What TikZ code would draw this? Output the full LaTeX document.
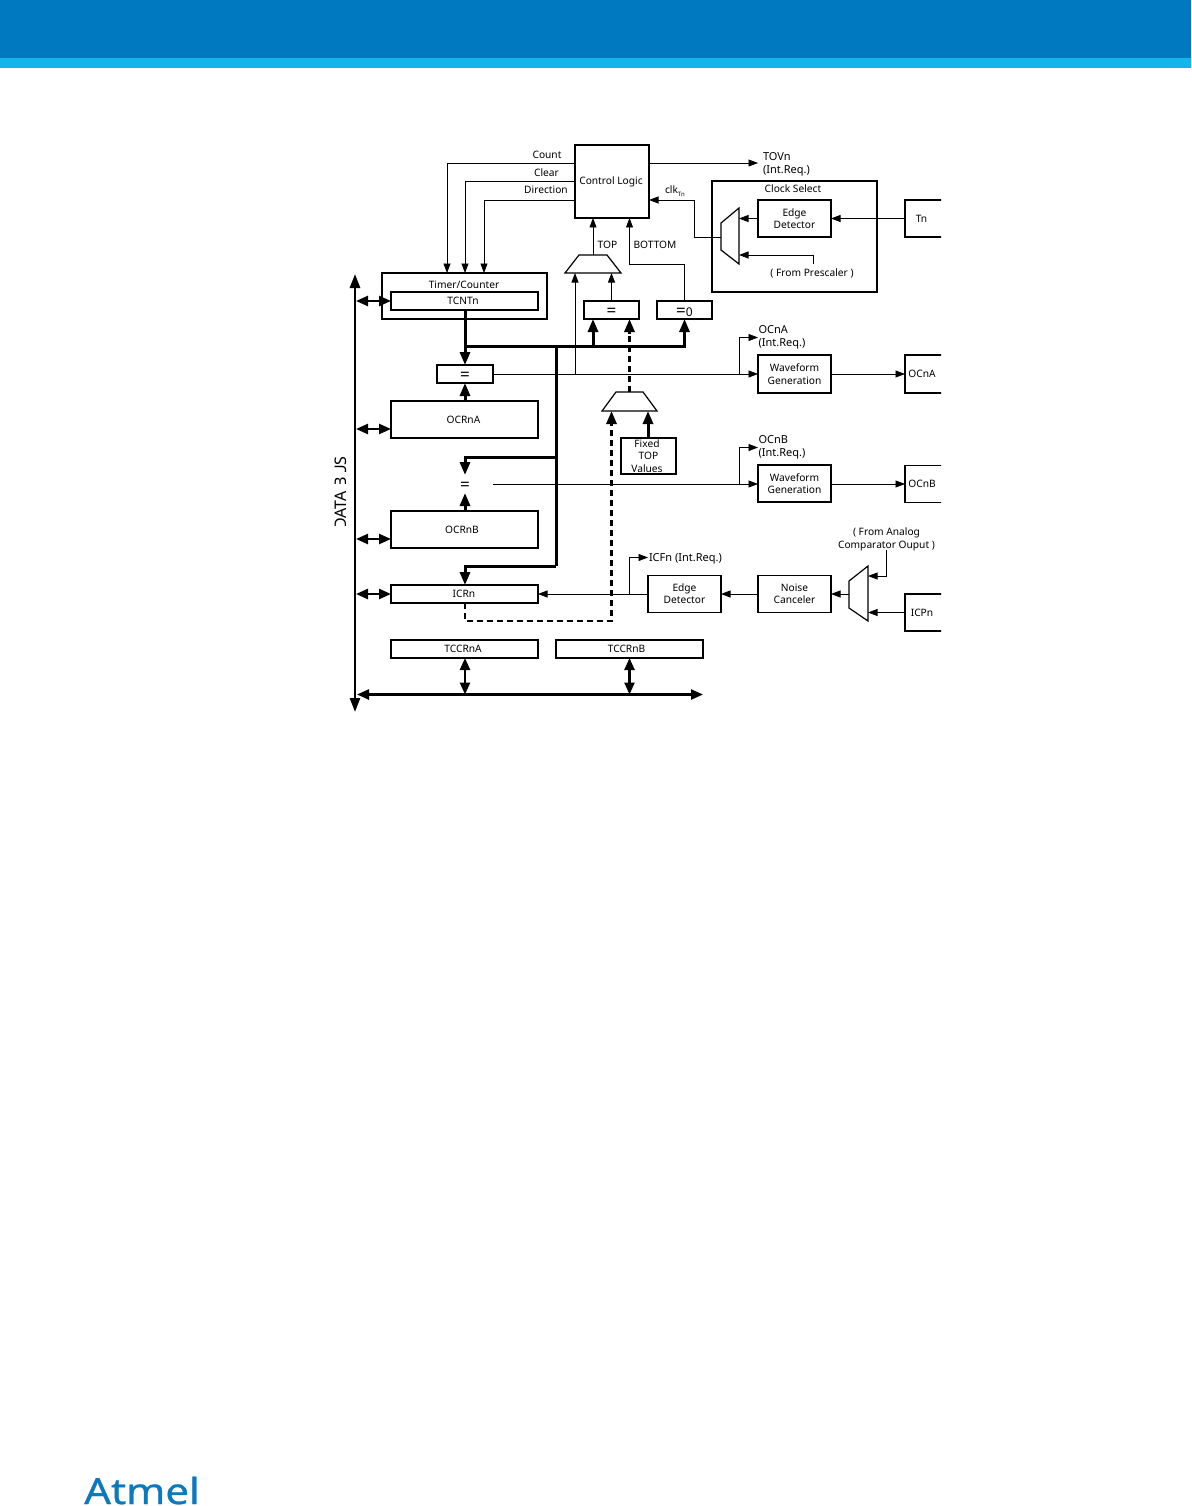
\documentclass[tikz,border=0pt]{standalone}
\usepackage{fontspec}
\setmainfont{Noto Sans}
\newfontfamily\logofont[FakeBold=0.7]{Noto Sans}
\usetikzlibrary{arrows.meta}
\definecolor{HeadBlue}{HTML}{0079C1}
\definecolor{HeadCyan}{HTML}{14B5EB}
\definecolor{LogoBlue}{HTML}{0C78BE}
\tikzset{
  blk/.style={draw=black,line width=1.2pt,inner sep=0pt,outer sep=0pt,align=center,font=\fontsize{10.2}{12.3}\selectfont},
  eqbox/.style={blk,font=\fontsize{17}{17}\selectfont,text height=12pt,text depth=0pt},
  lbl/.style={inner sep=0pt,outer sep=0pt,align=left,font=\fontsize{10.2}{13}\selectfont},
  irq/.style={lbl,font=\fontsize{11}{13}\selectfont},
  sig/.style={line width=0.75pt,-{Triangle[length=9.5pt,width=7pt]}},
  bus/.style={line width=3pt,-{Triangle[length=13pt,width=10pt]}},
  busboth/.style={line width=2.4pt,{Triangle[length=12pt,width=10pt]}-{Triangle[length=12pt,width=10pt]}},
  busline/.style={line width=3pt},
  busdash/.style={line width=2.6pt,dash pattern=on 6pt off 4pt},
  muxshape/.style={draw=black,line width=1.2pt}
}
\begin{document}
\begin{tikzpicture}[x=1pt,y=-1pt]
  \useasboundingbox (0,0) rectangle (1191,1506);
  % page header
  \fill[HeadBlue] (0,0) rectangle (1191,58);
  \fill[HeadCyan] (0,58) rectangle (1191,68);
  \node[text=LogoBlue,inner sep=0pt,anchor=base west,xscale=1.165,transform shape,font=\fontsize{36}{36}\logofont] (logo) at (84,1504) {Atmel};
  % right hand boxes are cut at the edge of the figure
  \begin{scope}
    \clip (300,120) rectangle (941,730);
    \node[blk,minimum width=38pt,minimum height=37pt] (tn) at (924,218.5) {Tn\hspace*{5pt}};
    \node[blk,minimum width=38pt,minimum height=38pt] (ocna) at (924,374) {OCnA\hspace*{4pt}};
    \node[blk,minimum width=38pt,minimum height=37pt] (ocnb) at (924,484) {OCnB\hspace*{4pt}};
    \node[blk,minimum width=38pt,minimum height=37pt] (icpn) at (924,612.5) {ICPn\hspace*{4pt}};
  \end{scope}
  % blocks
  \node[blk,minimum width=74pt,minimum height=73pt] (ctrl) at (612,181.5) {Control Logic\hspace*{2pt}};
  \node[blk,minimum width=165pt,minimum height=46pt] (timer) at (464.5,296) {};
  \node[lbl] (timerlbl) at (464,284.5) {Timer/Counter};
  \node[blk,minimum width=147pt,minimum height=18pt] (tcnt) at (464.5,301) {TCNTn\hspace*{3pt}};
  \node[eqbox,minimum width=56pt,minimum height=18pt] (eqa) at (465,374) {=};
  \node[blk,minimum width=147pt,minimum height=37pt] (ocra) at (464.5,419.5) {OCRnA\hspace*{2pt}};
  \node[eqbox,draw=none,minimum width=56pt,minimum height=18pt] (eqb) at (465,484) {=};
  \node[blk,minimum width=147pt,minimum height=37pt] (ocrb) at (464.5,529.5) {OCRnB\hspace*{5pt}};
  \node[blk,minimum width=147pt,minimum height=18pt] (icr) at (464.5,594) {ICRn\hspace*{1pt}};
  \node[blk,minimum width=147pt,minimum height=18pt] (tccra) at (464.5,649) {TCCRnA\hspace*{3pt}};
  \node[blk,minimum width=147pt,minimum height=18pt] (tccrb) at (629.5,649) {TCCRnB\hspace*{6pt}};
  \node[eqbox,minimum width=55pt,minimum height=18pt] (eqtop) at (611.5,310) {=};
  \node[eqbox,minimum width=55pt,minimum height=18pt] (eqzero) at (684.5,310) {=\fontsize{12}{12}\selectfont 0};
  \node[blk,minimum width=55pt,minimum height=36pt] (fixed) at (648.5,456) {Fixed\hspace*{3pt}\\TOP\hspace*{3pt}\\Values\hspace*{3pt}};
  \node[blk,minimum width=165pt,minimum height=111pt] (clksel) at (794.5,236.5) {};
  \node[lbl] (clksellbl) at (793,189) {Clock Select};
  \node[blk,minimum width=73pt,minimum height=37pt] (edgea) at (794.5,218.5) {Edge\\Detector};
  \node[blk,minimum width=73pt,minimum height=38pt] (wavea) at (794.5,374) {Waveform\\Generation};
  \node[blk,minimum width=73pt,minimum height=37pt] (waveb) at (794.5,483.5) {Waveform\\Generation};
  \node[blk,minimum width=73pt,minimum height=37pt] (edgeb) at (684.5,594) {Edge\\Detector};
  \node[blk,minimum width=73pt,minimum height=37pt] (noise) at (794.5,594) {Noise\\Canceler};
  % multiplexers
  \draw[muxshape] (579,255) -- (607,255) -- (621,273) -- (565,273) -- cycle;
  \draw[muxshape] (616,392) -- (643,392) -- (657,411) -- (602,411) -- cycle;
  \draw[muxshape] (739,208) -- (739,264) -- (721,250) -- (721,223) -- cycle;
  \draw[muxshape] (868,566) -- (868,621) -- (849,608) -- (849,581) -- cycle;
  % labels
  \node[lbl] (count) at (547,154.5) {Count};
  \node[lbl] (clear) at (546.5,172.5) {Clear};
  \node[lbl] (direction) at (546,190) {Direction};
  \node[lbl] (top) at (607.5,245) {TOP};
  \node[lbl] (bottom) at (655,245) {BOTTOM};
  \node[irq,anchor=west] (tov) at (763,164) {TOVn\\(Int.Req.)};
  \node[lbl,anchor=west] (clk) at (665,191) {clk\raisebox{-3pt}{\fontsize{6}{6}\selectfont Tn}};
  \node[lbl] (presc) at (812,273.5) {( From Prescaler )};
  \node[irq,anchor=west] (irqa) at (758.5,337.5) {OCnA\\(Int.Req.)};
  \node[irq,anchor=west] (irqb) at (758.5,447.5) {OCnB\\(Int.Req.)};
  \node[irq,anchor=base west] (icf) at (649,561) {ICFn (Int.Req.)};
  \node[lbl,align=center] (analog) at (886.5,539) {( From Analog\\Comparator Ouput )};
  \node[lbl,rotate=90,font=\fontsize{16}{16}\selectfont] (dbus) at (341,493) {DATA BUS};
  % lost stems of the rotated title
  \fill[white] (332,526) rectangle (350,532);
  \fill[white] (332,484) rectangle (350,487);
  \fill[white] (332,471.5) rectangle (350,476.6);
  % junctions
  \coordinate (topin) at (593,255);
  \coordinate (busjoin) at (465,346.5);
  \coordinate (busdrop) at (556,346.5);
  \coordinate (linea) at (739.5,374);
  \coordinate (lineb) at (739.5,484);
  \coordinate (icrline) at (629,594);
  % control signals
  \draw[sig] (ctrl.west |- 0,163) -- (447,163) -- (timer.north -| 447,0);
  \draw[sig] (ctrl.west |- 0,181.5) -- (465,181.5) -- (timer.north -| 465,0);
  \draw[sig] (ctrl.west |- 0,200) -- (484,200) -- (timer.north -| 484,0);
  \draw[sig] (ctrl.east |- 0,163) -- (758,163);
  \draw[sig] (topin) -- (ctrl.south -| topin);
  \draw[sig] (eqzero.north) -- (684.5,264.5) -- (629.5,264.5) -- (ctrl.south -| 629.5,0);
  \draw[sig] (eqtop.north) -- (611.5,273);
  \draw[sig] (575,374) -- (575,273);
  \draw[sig] (721,237) -- (694,237) -- (694,200) -- (ctrl.east |- 0,200);
  \draw[sig] (edgea.west) -- (739,218.5);
  \draw[sig] (tn.west) -- (edgea.east);
  \draw[sig] (813,264) -- (813,255) -- (739,255);
  % compare outputs
  \draw[sig] (eqa.east) -- (wavea.west);
  \draw[sig] (linea) -- (739.5,337.5) -- (758,337.5);
  \draw[sig] (wavea.east) -- (ocna.west);
  \draw[sig] (eqb.east) -- (waveb.west |- eqb.east);
  \draw[sig] (lineb) -- (739.5,447.5) -- (758,447.5);
  \draw[sig] (waveb.east |- ocnb.west) -- (ocnb.west);
  % input capture
  \draw[sig] (886,550) -- (886,576) -- (868,576);
  \draw[sig] (icpn.west) -- (868,612.5);
  \draw[sig] (849,594) -- (noise.east);
  \draw[sig] (noise.west) -- (edgeb.east);
  \draw[sig] (edgeb.west) -- (icr.east);
  \draw[sig] (icrline) -- (629,557.5) -- (648,557.5);
  % counter bus
  \draw[bus] (tcnt.south -| busjoin) -- (eqa.north -| busjoin);
  \draw[bus] (busjoin) -- (593,346.5) -- (eqtop.south -| 593,0);
  \draw[bus] (593,346.5) -- (684.5,346.5) -- (eqzero.south);
  \draw[busline] (busdrop) -- (556,566);
  \draw[bus] (556,457) -- (465,457) -- (eqb.north);
  \draw[bus] (556,566) -- (465,566) -- (icr.north -| 465,0);
  \draw[bus] (ocra.north -| eqa) -- (eqa.south);
  \draw[bus] (ocrb.north -| eqb) -- (eqb.south);
  \draw[bus] (fixed.north -| 648,0) -- (648,411);
  % dashed capture path
  \draw[busdash] (icr.south -| 465,0) -- (465,621) -- (611.5,621) -- (611.5,425);
  \draw[bus] (611.5,426) -- (611.5,411);
  \draw[busdash] (629.5,392) -- (629.5,334);
  \draw[bus] (629.5,334) -- (eqtop.south -| 629.5,0);
  % data bus
  \draw[line width=2.6pt,{Triangle[length=14pt,width=10pt]}-{Triangle[length=14pt,width=10pt]}] (355,274) -- (355,712);
  \draw[busboth] (356,301) -- (tcnt.west);
  \draw[busboth] (356,429) -- (ocra.west |- 0,429);
  \draw[busboth] (356,539) -- (ocrb.west |- 0,539);
  \draw[busboth] (356,594) -- (icr.west);
  \draw[busboth] (357,694.5) -- (703,694.5);
  \draw[busboth] (tccra.south -| 465,0) -- (465,694.5);
  \draw[busboth] (tccrb.south) -- (629.5,694.5);
\end{tikzpicture}
\end{document}
